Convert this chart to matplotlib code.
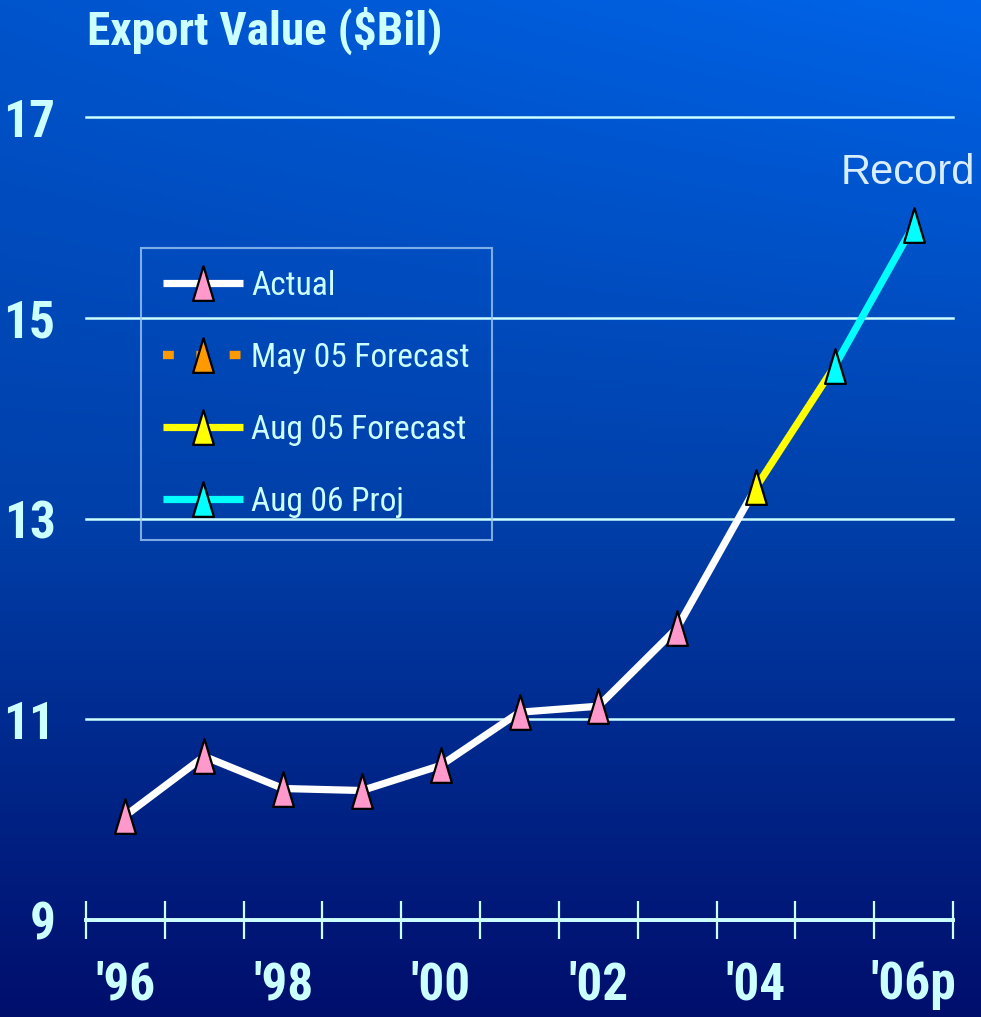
import numpy as np
import matplotlib
matplotlib.use("Agg")
from matplotlib import pyplot as plt
from matplotlib import font_manager
from matplotlib.path import Path

# Export value by year, $ billion
years = ["'96", "'97", "'98", "'99", "'00", "'01", "'02", "'03", "'04", "'05", "'06p"]
export_value = [10.04, 10.63, 10.31, 10.29, 10.54, 11.07, 11.13, 11.91, 13.31, 14.52, 15.92]
may05_forecast = []  # shown in the key only
shown_labels = ["'96", "'98", "'00", "'02", "'04", "'06p"]
y_ticks = [9, 11, 13, 15, 17]

# pick a narrow sans for the labels
names = {f.name for f in font_manager.fontManager.ttflist}
narrow = 'DejaVu Sans'
for cand in ['Liberation Sans Narrow', 'Roboto Condensed', 'PT Sans Narrow', 'Archivo Narrow']:
    if cand in names:
        narrow = cand
        break
light = '#CCFFFF'

fig = plt.figure(figsize=(9.81, 10.17), dpi=100)

# blue backdrop, brighter at the top right
bg = fig.add_axes([0, 0, 1, 1], zorder=-5)
h, w = 300, 300
t = np.linspace(0, 1, h)[:, None, None]
s = np.linspace(0, 1, w)[None, :, None]
top = np.array([0, 84, 204]) + (np.array([0, 100, 232]) - np.array([0, 84, 204])) * s
mid = np.array([0, 64, 170])
bot = np.array([0, 14, 108])
img = np.where(t < 0.5, top * (1 - t * 2) + mid * (t * 2),
               mid * (2 - t * 2) + bot * (t * 2 - 1))
bg.imshow(img / 255.0, aspect='auto', extent=[0, 1, 0, 1])
bg.axis('off')

ax = fig.add_axes([86 / 981, 97 / 1017, 867 / 981, 803 / 1017])
ax.patch.set_alpha(0)

x = np.arange(len(years))
tri = Path([(0, 1), (-0.6, -1), (0.6, -1), (0, 1)],
           [Path.MOVETO, Path.LINETO, Path.LINETO, Path.CLOSEPOLY])
mk = dict(marker=tri, markersize=25, markeredgecolor='black', markeredgewidth=1.6)

ax.plot(x[:9], export_value[:9], color='white', lw=5.2, solid_capstyle='butt',
        markerfacecolor='#FF99CC', markevery=list(range(8)), label='Actual', zorder=3, **mk)
ax.plot(may05_forecast, may05_forecast, color='#FF9900', lw=6, linestyle=(0, (1.3, 2.7)),
        dash_capstyle='butt', markerfacecolor='#FF9900', label='May 05 Forecast', zorder=3, **mk)
ax.plot(x[8:10], export_value[8:10], color='#FFFF00', lw=5.2, solid_capstyle='butt',
        markerfacecolor='#FFFF00', markevery=[0], label='Aug 05 Forecast', zorder=4, **mk)
ax.plot(x[9:], export_value[9:], color='#00FFFF', lw=5.2, solid_capstyle='butt',
        markerfacecolor='#00FFFF', label='Aug 06 Proj', zorder=5, **mk)

ax.set_xlim(-0.5, len(years) - 0.5)
ax.set_ylim(9, 17)

for sp in ['left', 'right', 'top']:
    ax.spines[sp].set_visible(False)
ax.spines['bottom'].set_color(light)
ax.spines['bottom'].set_linewidth(2.8)

ax.set_yticks(y_ticks)
ax.set_yticklabels([str(v) for v in y_ticks])
ax.tick_params(axis='y', length=0, pad=22, labelcolor=light, labelsize=37)
ax.grid(axis='y', color=light, lw=1.8)
ax.grid(axis='x', visible=False)
for gl in ax.get_ygridlines():
    gl.set_clip_on(False)

ax.set_xticks([years.index(lb) for lb in shown_labels])
ax.set_xticklabels(shown_labels)
ax.set_xticks(np.arange(-0.5, len(years)), minor=True)
ax.tick_params(axis='x', which='major', length=0, pad=29, labelcolor=light, labelsize=37)
ax.tick_params(axis='x', which='minor', direction='inout', length=27, width=1.6, color=light)
for lab in ax.get_xticklabels() + ax.get_yticklabels():
    lab.set_fontfamily(narrow)
    lab.set_fontweight('bold')
    lab.set_fontstretch('condensed')

fig.text(265 / 981, 1 - 7 / 1017, 'Export Value ($Bil)', ha='center', va='top',
         fontsize=34, fontweight='bold', fontstretch='condensed', color=light, family=narrow)
fig.text(975 / 981, 1 - 184 / 1017, 'Record', ha='right', va='baseline',
         fontsize=30, color='#D8EEFF', family='Liberation Sans')

leg = ax.legend(loc='upper left', bbox_to_anchor=(141 / 981, 1 - 248 / 1017),
                bbox_transform=fig.transFigure, borderaxespad=0, frameon=True,
                fancybox=False, handlelength=2.4, handletextpad=0.24, labelspacing=1.2,
                borderpad=0.66, numpoints=1,
                prop={'family': narrow, 'size': 24, 'stretch': 'condensed'})
leg.get_frame().set_facecolor('none')
leg.get_frame().set_edgecolor('#9CC8F4')
leg.get_frame().set_linewidth(1.5)
for txt in leg.get_texts():
    txt.set_color(light)

fig.savefig('out.png', dpi=100)
